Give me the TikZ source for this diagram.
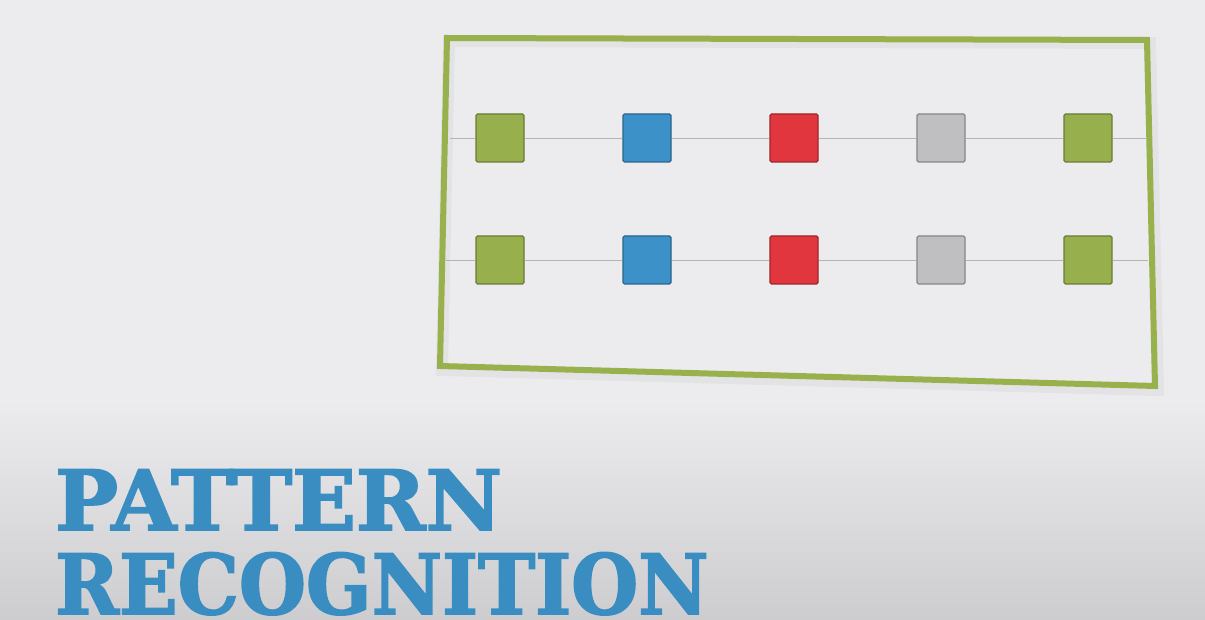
\documentclass[tikz,border=0pt]{standalone}
\usepackage{fontspec}
\newfontfamily\slabfont[BoldFeatures={FakeBold=2}]{DejaVu Serif Condensed}
\usetikzlibrary{positioning}
\definecolor{bgmid}{HTML}{ECEBEE}
\definecolor{bgbot}{HTML}{CDCDCF}
\definecolor{framegreen}{HTML}{98B14C}
\definecolor{sqgreen}{HTML}{97B04D}
\definecolor{sqblue}{HTML}{3C91C8}
\definecolor{sqred}{HTML}{E2363F}
\definecolor{sqgray}{HTML}{BFBEC1}
\definecolor{wiregray}{HTML}{B4B3B8}
\definecolor{titleblue}{HTML}{3A8DC0}

\begin{document}
\begin{tikzpicture}[x=1pt,y=-1pt]
	\tikzset{
		sq/.style={rectangle, rounded corners=1.5pt, minimum size=48pt, inner sep=0pt, line width=1.2pt},
		wire/.style={draw=wiregray, line width=0.9pt},
		frame/.style={draw=framegreen, line width=6pt, line join=miter},
		title/.style={anchor=base west, inner sep=0pt, text depth=0pt, text=titleblue, font=\slabfont\bfseries\fontsize{83}{83}\selectfont}
	}
	\fill[bgmid] (0,0) rectangle (1205,400);
	\shade[top color=bgmid, bottom color=bgbot] (0,400) rectangle (1205,620);
	\useasboundingbox (0,0) rectangle (1205,620);
	% frame
	\draw[frame, draw=black, opacity=0.035, line width=12pt] (449,41) -- (1150,43) -- (1158,390) -- (442,370) -- cycle;
	\draw[frame] (447,38) -- (1147,40) -- (1155,386) -- (440,366) -- cycle;
	% squares
	\foreach \c [count=\i] in {sqgreen,sqblue,sqred,sqgray,sqgreen} {
		\node[sq, fill=\c, draw=\c!70!black] (a\i) at ({500+147*(\i-1)}, 138) {};
		\node[sq, fill=\c, draw=\c!70!black] (b\i) at ({500+147*(\i-1)}, 260) {};
	}
	\coordinate (aL) at (450,138);
	\coordinate (aR) at (1146,138);
	\coordinate (bL) at (446,260);
	\coordinate (bR) at (1148,260);
	\draw[wire] (aL) -- (a1) -- (a2) -- (a3) -- (a4) -- (a5) -- (aR);
	\draw[wire] (bL) -- (b1) -- (b2) -- (b3) -- (b4) -- (b5) -- (bR);
	% title
	\node[title] (pat) at (55,530) {\scalebox{1.12}[1]{PATTERN}};
	\node[title] (rec) at (55,614) {\scalebox{1.03}[1]{RECOGNITION}};
\end{tikzpicture}
\end{document}
